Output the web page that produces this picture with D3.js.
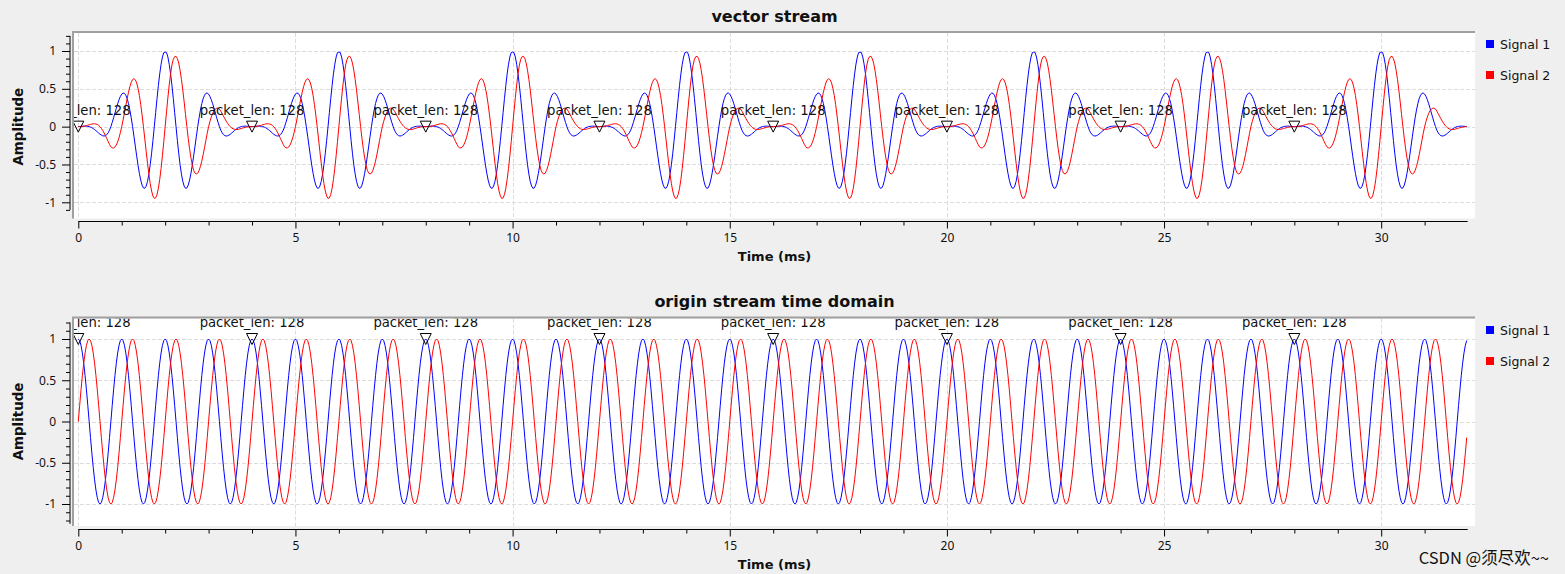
<!DOCTYPE html>
<html><head><meta charset="utf-8">
<script src="https://cdn.jsdelivr.net/npm/d3@7"></script>
<style>
html,body{margin:0;padding:0;background:#efefef;}
svg{display:block;}
text{font-family:"Noto Sans","DejaVu Sans",sans-serif;fill:#111;}
</style></head><body>
<svg id="chart" width="1565" height="574"></svg>
<script>
// ---------------- DATA ----------------
const sampleRateKHz = 32;          // samples per ms
const totalSamples = 1024;
const packetLen = 128;

// one vector (packet of 128 samples) of the "vector stream"
const vectorSignal1Packet = [
 0, .002, .003, .005, .006, .007, .006, .004,
 0, -.006, -.014, -.025, -.038, -.053, -.069, -.085,
 -.100, -.112, -.121, -.124, -.119, -.106, -.082, -.047,
 0, .056, .116, .180, .243, .303, .356, .399,
 .430, .444, .440, .416, .370, .305, .219, .117,
 0, -.126, -.257, -.386, -.508, -.617, -.707, -.773,
 -.810, -.815, -.786, -.723, -.628, -.503, -.352, -.183,
 0, .187, .371, .544, .698, .825, .921, .980,
 .985, .980, .921, .825, .698, .544, .371, .187,
 0, -.183, -.352, -.503, -.628, -.723, -.786, -.815,
 -.810, -.773, -.707, -.617, -.508, -.386, -.257, -.126,
 0, .117, .219, .305, .370, .416, .440, .444,
 .430, .399, .356, .303, .243, .180, .116, .056,
 0, -.047, -.082, -.106, -.119, -.124, -.121, -.112,
 -.100, -.085, -.069, -.053, -.038, -.025, -.014, -.006,
 0, .004, .006, .007, .006, .005, .003, .002
];
const vectorSignal2Packet = [
 0, 0, .001, .003, .006, .010, .014, .020,
 .025, .030, .035, .038, .038, .035, .028, .017,
 0, -.022, -.050, -.083, -.119, -.158, -.198, -.235,
 -.267, -.280, -.281, -.269, -.243, -.202, -.147, -.079,
 0, .088, .182, .278, .370, .456, .529, .586,
 .622, .634, .620, .578, .508, .413, .293, .154,
 0, -.162, -.326, -.483, -.628, -.753, -.851, -.917,
 -.949, -.942, -.897, -.815, -.698, -.551, -.381, -.195,
 0, .195, .381, .551, .698, .815, .890, .925,
 .930, .900, .840, .745, .625, .483, .326, .162,
 0, -.154, -.293, -.413, -.508, -.578, -.615, -.625,
 -.615, -.580, -.525, -.456, -.370, -.278, -.182, -.088,
 0, .069, .128, .176, .211, .234, .244, .244,
 .232, .204, .172, .137, .104, .072, .044, .019,
 0, -.017, -.028, -.035, -.038, -.038, -.035, -.030,
 -.025, -.020, -.014, -.010, -.006, -.003, -.001, 0
];
// one 1 ms cycle (32 samples) of the "origin stream"
const originSignal1Cycle = [1, .981, .924, .831, .707, .556, .383, .195, 0, -.195, -.383, -.556, -.707, -.831, -.924, -.981,
 -1, -.981, -.924, -.831, -.707, -.556, -.383, -.195, 0, .195, .383, .556, .707, .831, .924, .981];
const originSignal2Cycle = [0, .195, .383, .556, .707, .831, .924, .981, 1, .981, .924, .831, .707, .556, .383, .195,
 0, -.195, -.383, -.556, -.707, -.831, -.924, -.981, -1, -.981, -.924, -.831, -.707, -.556, -.383, -.195];

const tagTimes = [0, 4, 8, 12, 16, 20, 24, 28];
const tagLabel = "packet_len: 128";
const xTicks = [0, 5, 10, 15, 20, 25, 30];
const yTicks = [-1, -0.5, 0, 0.5, 1];
const seriesNames = ["Signal 1", "Signal 2"];
const seriesColors = ["#0000ff", "#ff0000"];
const titles = ["vector stream", "origin stream time domain"];
const xLabel = "Time (ms)";
const yLabel = "Amplitude";

// ---------------- BUILD SERIES ----------------
function repeatBlock(block) {
  const out = [];
  for (let i = 0; i < totalSamples; i++) out.push({t: i / sampleRateKHz, v: block[i % block.length]});
  return out;
}
const panelsData = [
  [repeatBlock(vectorSignal1Packet), repeatBlock(vectorSignal2Packet)],
  [repeatBlock(originSignal1Cycle), repeatBlock(originSignal2Cycle)]
];

// ---------------- LAYOUT ----------------
const layout = [
  {titleY: 16, cy0: 33, cy1: 218.5, y1px: 51, ym1px: 202.3, yAxTop: 1.2, yAxBot: -1.1, xAxisY: 221.5, legendY: [44, 75]},
  {titleY: 301, cy0: 318.5, cy1: 526, y1px: 339, ym1px: 504, yAxTop: 1.2, yAxBot: -1.24, xAxisY: 529.5, legendY: [330, 361]}
];
const cx0 = 74, cx1 = 1475;
const x0px = 78.3, pxPerMs = 43.43;
const xMax = (totalSamples - 1) / sampleRateKHz;
const dv = "'DejaVu Sans', sans-serif";

const svg = d3.select("#chart");
svg.append("rect").attr("width", 1565).attr("height", 574).attr("fill", "#efefef");

layout.forEach((L, pi) => {
  const g = svg.append("g");
  const x = d3.scaleLinear().domain([0, xMax]).range([x0px, x0px + xMax * pxPerMs]);
  const y = d3.scaleLinear().domain([-1, 1]).range([L.ym1px, L.y1px]);

  // title
  g.append("text").attr("x", (cx0 + cx1) / 2).attr("y", L.titleY).attr("text-anchor", "middle")
    .attr("dominant-baseline", "central").style("font-family", dv).style("font-weight", "bold").style("font-size", "16px").text(titles[pi]);

  // canvas
  g.append("rect").attr("x", cx0).attr("y", L.cy0).attr("width", cx1 - cx0).attr("height", L.cy1 - L.cy0).attr("fill", "#fff");

  const clipId = "clip" + pi;
  g.append("clipPath").attr("id", clipId).append("rect").attr("x", cx0).attr("y", L.cy0)
    .attr("width", cx1 - cx0).attr("height", L.cy1 - L.cy0);
  const cg = g.append("g").attr("clip-path", `url(#${clipId})`);

  // grid
  cg.selectAll(".gx").data(xTicks).join("line").attr("x1", d => Math.round(x(d)) + 0.5).attr("x2", d => Math.round(x(d)) + 0.5)
    .attr("y1", L.cy0).attr("y2", L.cy1).attr("stroke", "#dcdcdc").attr("stroke-dasharray", "4,2");
  cg.selectAll(".gy").data(yTicks).join("line").attr("y1", d => Math.round(y(d)) + 0.5).attr("y2", d => Math.round(y(d)) + 0.5)
    .attr("x1", cx0).attr("x2", cx1).attr("stroke", "#dcdcdc").attr("stroke-dasharray", "4,2");

  // curves
  const line = d3.line().x(d => x(d.t)).y(d => y(d.v));
  panelsData[pi].forEach((series, si) => {
    cg.append("path").datum(series).attr("d", line).attr("fill", "none")
      .attr("stroke", seriesColors[si]).attr("stroke-width", 1);
  });

  // tags
  tagTimes.forEach(tt => {
    const idx = Math.round(tt * sampleRateKHz);
    const px = x(tt), py = y(panelsData[pi][0][idx].v);
    cg.append("path").attr("d", `M${px - 5.5},${py - 5.5} L${px + 5.5},${py - 5.5} L${px},${py + 5.5} Z`)
      .attr("fill", "none").attr("stroke", "#000").attr("stroke-width", 1);
    cg.append("text").attr("x", px).attr("y", py - 16.5).attr("text-anchor", "middle")
      .attr("dominant-baseline", "central").style("font-family", dv).style("font-size", "13.2px").text(tagLabel);
  });

  // canvas frame (sunken, top/left)
  g.append("path").attr("d", `M${cx0 - 1},${L.cy1} V${L.cy0 - 1} H${cx1}`).attr("fill", "none")
    .attr("stroke", "#a0a0a0").attr("stroke-width", 2);

  // x axis
  const xAxG = g.append("g").attr("transform", `translate(0,${L.xAxisY})`);
  xAxG.call(d3.axisBottom(x).tickValues(xTicks).tickSize(7).tickSizeOuter(0).tickFormat(d => String(d)));
  xAxG.call(ax => ax.select(".domain").remove());
  const minorX = d3.range(0, 32, 1).filter(v => v % 5 !== 0);
  xAxG.append("g").call(d3.axisBottom(x).tickValues(minorX).tickSize(4).tickFormat(""))
    .call(ax => ax.select(".domain").remove());
  xAxG.append("line").attr("x1", x(0)).attr("x2", x(xMax) + 1).attr("stroke", "#000");
  xAxG.selectAll("text").style("font-size", "12px").attr("fill", "#111").attr("dy", "0.9em");
  g.append("text").attr("x", (cx0 + cx1) / 2).attr("y", L.xAxisY + 35).attr("text-anchor", "middle")
    .attr("dominant-baseline", "central").style("font-family", dv).style("font-weight", "bold").style("font-size", "13px").text(xLabel);

  // y axis
  const yAxG = g.append("g").attr("transform", `translate(70,0)`);
  yAxG.call(d3.axisLeft(y).tickValues(yTicks).tickSize(8).tickSizeOuter(0).tickPadding(6).tickFormat(d => String(d)));
  yAxG.call(ax => ax.select(".domain").remove());
  const minorY = d3.range(-12, 13).map(v => v / 10).filter(v => v >= L.yAxBot - 1e-9 && v <= L.yAxTop + 1e-9 && Math.abs(v * 2 - Math.round(v * 2)) > 1e-6);
  yAxG.append("g").call(d3.axisLeft(y).tickValues(minorY).tickSize(4).tickFormat(""))
    .call(ax => ax.select(".domain").remove());
  yAxG.append("line").attr("x1", 0).attr("x2", 0).attr("y1", y(L.yAxTop)).attr("y2", y(L.yAxBot)).attr("stroke", "#000");
  yAxG.selectAll("text").style("font-size", "12px").attr("fill", "#111");
  g.append("text").attr("transform", `translate(18,${(L.y1px + L.ym1px) / 2}) rotate(-90)`).attr("text-anchor", "middle")
    .attr("dominant-baseline", "central").style("font-family", dv).style("font-weight", "bold").style("font-size", "13.4px").text(yLabel);

  // legend
  seriesNames.forEach((name, si) => {
    g.append("rect").attr("x", 1486).attr("y", L.legendY[si] - 4).attr("width", 8).attr("height", 8).attr("fill", seriesColors[si]);
    g.append("text").attr("x", 1500).attr("y", L.legendY[si]).attr("dominant-baseline", "central")
      .style("font-family", dv).style("font-size", "12.5px").text(name);
  });
});

// watermark
svg.append("text").attr("x", 1549).attr("y", 557).attr("text-anchor", "end").attr("dominant-baseline", "central")
  .style("font-family", "'Noto Sans CJK SC', sans-serif").style("font-size", "16.5px").attr("fill", "#a8a8a8")
  .text("CSDN @须尽欢~~");
</script>
</body></html>
